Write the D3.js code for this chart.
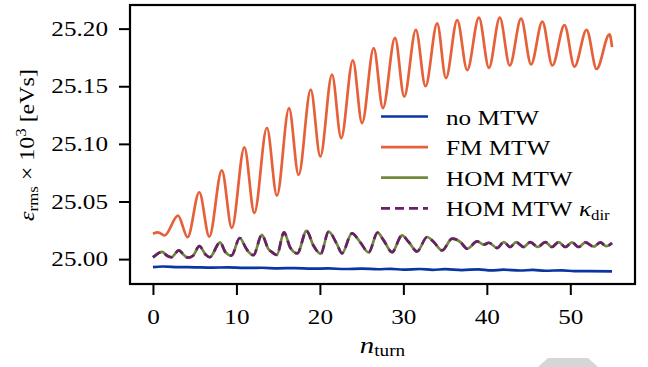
<!DOCTYPE html>
<html>
<head>
<meta charset="utf-8">
<script src="https://cdn.jsdelivr.net/npm/d3@7"></script>
<style>
  body { margin: 0; background: #fff; }
  svg { display: block; }
  text { font-family: "Liberation Serif", serif; font-size: 21px; fill: #000; }
</style>
</head>
<body>
<div id="chart"></div>
<script>
// no MTW
const noMtwTurns = [0, 1.2, 3, 5, 7, 9, 11, 13, 15, 17, 19, 21, 23, 25, 27, 28.5, 30, 32, 33.5, 35, 37, 39, 40.5, 42, 44, 45.5, 47, 49, 50.5, 52, 55];
const noMtwEps = [24.9930, 24.9936, 24.9931, 24.9929, 24.9926, 24.9928, 24.9924, 24.9925, 24.9920, 24.9922, 24.9917, 24.9919, 24.9914, 24.9917, 24.9912, 24.9916, 24.9908, 24.9914, 24.9907, 24.9913, 24.9905, 24.9911, 24.9902, 24.9908, 24.9901, 24.9906, 24.9899, 24.9903, 24.9895, 24.9895, 24.9894];

// FM MTW
const fmTurns = [0, 0.6, 1.4, 3.0, 4.15, 5.55, 6.75, 8.25, 9.45, 10.95, 12.15, 13.65, 14.85, 16.3, 17.45, 18.9, 20.05, 21.45, 22.55, 23.95, 25.05, 26.45, 27.55, 29.0, 30.1, 31.5, 32.65, 34.05, 35.1, 36.45, 37.65, 39.05, 40.25, 41.55, 42.75, 44.1, 45.3, 46.65, 47.85, 49.3, 50.5, 51.95, 53.15, 54.7, 55];
const fmEps = [25.022, 25.0232, 25.0205, 25.0378, 25.019, 25.058, 25.0195, 25.077, 25.027, 25.097, 25.040, 25.114, 25.055, 25.131, 25.073, 25.147, 25.089, 25.160, 25.105, 25.1725, 25.118, 25.183, 25.131, 25.192, 25.141, 25.199, 25.150, 25.2045, 25.157, 25.2074, 25.164, 25.2095, 25.166, 25.2095, 25.168, 25.2087, 25.169, 25.206, 25.168, 25.203, 25.167, 25.199, 25.165, 25.195, 25.184];

// HOM MTW (the kappa_dir run lies on top of it)
const homTurns = [0, 1.1, 1.7, 2.2, 3.1, 3.7, 4.2, 4.8, 5.56, 6.3, 6.8, 8.04, 8.7, 9.4, 10.4, 11.1, 11.5, 12.04, 13.04, 13.84, 14.3, 14.84, 15.7, 16.44, 17.3, 18.4, 19.24, 20.1, 21.04, 22.04, 22.64, 23.84, 24.84, 25.84, 26.9, 27.64, 28.64, 29.84, 30.64, 31.64, 32.84, 33.64, 34.64, 35.84, 36.84, 37.64, 38.84, 39.64, 40.24, 41.24, 42.04, 42.8, 43.5, 44.4, 45.2, 46.1, 47.0, 47.8, 48.6, 49.4, 50.2, 51.0, 51.8, 52.8, 53.6, 54.3, 55];
const homEps = [25.0015, 25.0062, 25.0029, 25.0016, 25.0076, 25.0036, 25.0012, 25.0029, 25.0112, 25.0040, 25.0016, 25.0145, 25.0058, 25.0030, 25.0183, 25.0101, 25.0058, 25.0034, 25.0210, 25.0087, 25.0058, 25.0036, 25.0232, 25.0101, 25.0050, 25.0245, 25.0116, 25.0046, 25.0238, 25.0130, 25.0050, 25.0224, 25.0145, 25.0058, 25.0230, 25.0163, 25.0060, 25.0206, 25.0148, 25.0066, 25.0192, 25.0148, 25.0075, 25.0177, 25.0148, 25.0090, 25.0154, 25.0125, 25.0142, 25.0096, 25.0148, 25.0105, 25.0148, 25.0105, 25.0148, 25.0105, 25.0148, 25.0105, 25.0148, 25.0105, 25.0145, 25.0105, 25.0145, 25.0108, 25.0145, 25.0112, 25.0140];

const xTicks = [0, 10, 20, 30, 40, 50];
const yTicks = [25.00, 25.05, 25.10, 25.15, 25.20];
const legendLabels = ['no MTW', 'FM MTW', 'HOM MTW', 'HOM MTW'];

const colors = ['#0a36a3', '#e6603a', '#6f8b3a', '#6a1f6a'];
const series = [
  { xs: noMtwTurns, ys: noMtwEps, color: colors[0], dash: null },
  { xs: fmTurns, ys: fmEps, color: colors[1], dash: null },
  { xs: homTurns, ys: homEps, color: colors[2], dash: null },
  { xs: homTurns, ys: homEps, color: colors[3], dash: '9,5' },
];

const sx = 1.2; // horizontal glyph stretch of the reference text

const margin = { top: 5, right: 13, bottom: 83, left: 130 },
  width = 648 - margin.left - margin.right,
  height = 367 - margin.top - margin.bottom;

const svg = d3.select('#chart').append('svg')
  .attr('width', 648)
  .attr('height', 367);

// decorative grey shape at the bottom edge of the reference
svg.append('path')
  .attr('d', 'M548,358 L588,358 L598,367 L538,367 Z')
  .attr('fill', '#d6d6d6');

const g = svg.append('g')
  .attr('transform', 'translate(' + margin.left + ',' + margin.top + ')');

// matplotlib-like 5% padding
const xExt = d3.extent(series.flatMap((s) => s.xs));
const yExt = d3.extent(series.flatMap((s) => s.ys));
const xPad = (xExt[1] - xExt[0]) * 0.05, yPad = (yExt[1] - yExt[0]) * 0.05;

const x = d3.scaleLinear().domain([xExt[0] - xPad, xExt[1] + xPad]).range([0, width]);
const y = d3.scaleLinear().domain([yExt[0] - yPad, yExt[1] + yPad]).range([height, 0]);

const line = d3.line()
  .x((d) => x(d[0]))
  .y((d) => y(d[1]))
  .curve(d3.curveMonotoneX);

series.forEach((s) => {
  g.append('path')
    .datum(s.xs.map((v, i) => [v, s.ys[i]]))
    .attr('d', line)
    .attr('fill', 'none')
    .attr('stroke', s.color)
    .attr('stroke-width', 2.7)
    .attr('stroke-linejoin', 'round')
    .attr('stroke-dasharray', s.dash);
});

// axes
const yAxis = g.append('g')
  .call(d3.axisLeft(y).tickValues(yTicks).tickFormat(d3.format('.2f')).tickSize(11).tickPadding(11));
const xAxis = g.append('g')
  .attr('transform', 'translate(0,' + height + ')')
  .call(d3.axisBottom(x).tickValues(xTicks).tickFormat(d3.format('d')).tickSize(11).tickPadding(14));

[yAxis, xAxis].forEach((ax) => {
  ax.select('.domain').remove();
  ax.selectAll('line').attr('stroke', '#000').attr('stroke-width', 2);
  ax.selectAll('text')
    .attr('transform', 'scale(' + sx + ',1)')
    .attr('x', function () { return (+this.getAttribute('x') || 0) / sx; });
});

g.append('rect')
  .attr('width', width)
  .attr('height', height)
  .attr('fill', 'none')
  .attr('stroke', '#000')
  .attr('stroke-width', 2.2);

// legend
const legend = g.append('g').attr('transform', 'translate(251,111.5)');
legendLabels.forEach((lab, i) => {
  const row = legend.append('g').attr('transform', 'translate(0,' + i * 30.6 + ')');
  row.append('line')
    .attr('x1', 0).attr('x2', 47)
    .attr('stroke', series[i].color)
    .attr('stroke-width', 2.7)
    .attr('stroke-dasharray', series[i].dash);
  const t = row.append('text')
    .attr('transform', 'translate(65,8) scale(' + sx + ',1)')
    .text(lab);
  if (i === 3) {
    t.append('tspan').text('\u00a0');
    t.append('tspan').style('font-style', 'italic').text('κ');
    t.append('tspan').style('font-size', '14px').attr('dy', 4).text('dir');
  }
});

// y label
const yl = svg.append('text')
  .attr('transform', 'translate(34,145) rotate(-90) scale(' + sx + ',1)')
  .attr('text-anchor', 'middle')
  .style('font-size', '20px');
yl.append('tspan').style('font-style', 'italic').text('ε');
yl.append('tspan').style('font-size', '14px').attr('dy', 4).text('rms');
yl.append('tspan').attr('dy', -4).text(' × 10');
yl.append('tspan').style('font-size', '14px').attr('dy', -8).text('3');
yl.append('tspan').attr('dy', 8).text('\u00a0[eVs]');

// x label
const xl = svg.append('text')
  .attr('transform', 'translate(' + (margin.left + width / 2) + ',353) scale(' + sx + ',1)')
  .attr('text-anchor', 'middle');
xl.append('tspan').style('font-style', 'italic').style('font-size', '24px').text('n');
xl.append('tspan').style('font-size', '16px').attr('dy', 3).text('turn');
</script>
</body>
</html>
